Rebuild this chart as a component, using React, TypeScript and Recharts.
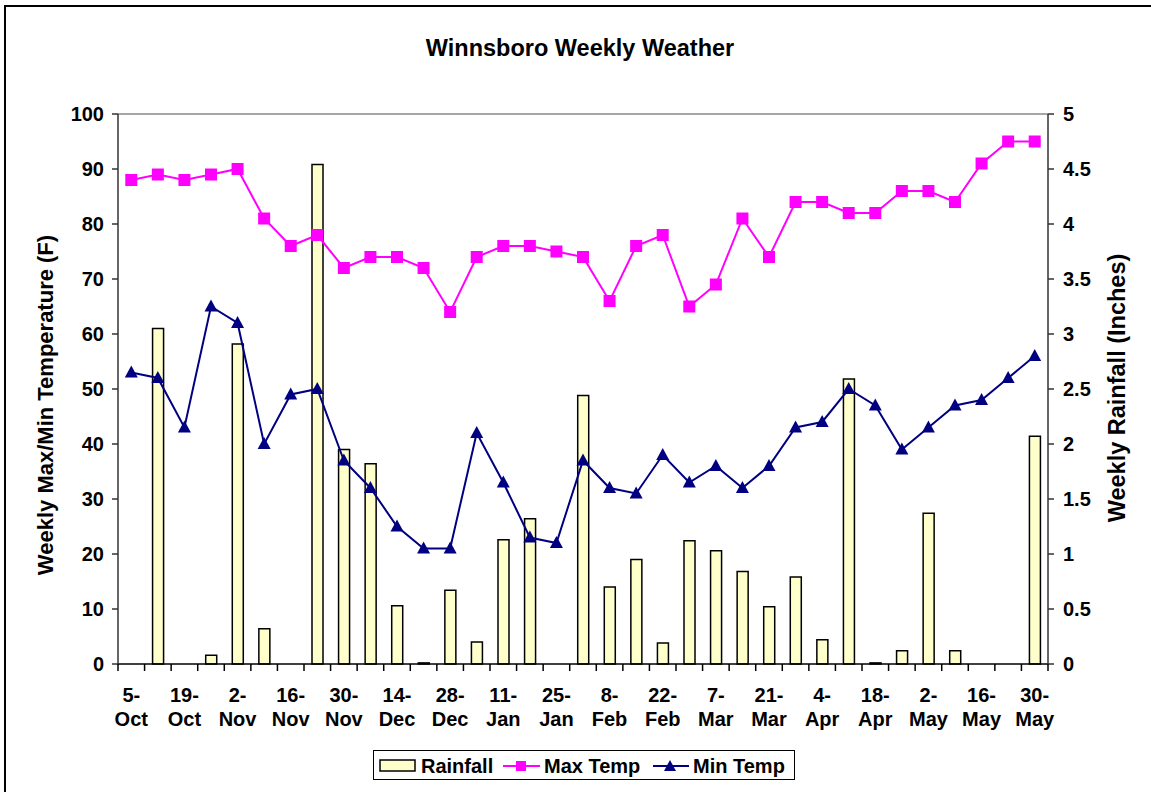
import { ComposedChart, Bar, Line, XAxis, YAxis, Legend, ReferenceLine } from "recharts";

const weeks = [
  "5-Oct", "12-Oct", "19-Oct", "26-Oct", "2-Nov", "9-Nov", "16-Nov", "23-Nov", "30-Nov",
  "7-Dec", "14-Dec", "21-Dec", "28-Dec", "4-Jan", "11-Jan", "18-Jan", "25-Jan",
  "1-Feb", "8-Feb", "15-Feb", "22-Feb", "29-Feb", "7-Mar", "14-Mar", "21-Mar", "28-Mar",
  "4-Apr", "11-Apr", "18-Apr", "25-Apr", "2-May", "9-May", "16-May", "23-May", "30-May",
];

const rainfall = [
  0, 3.05, 0, 0.08, 2.91, 0.32, 0, 4.54, 1.95, 1.82, 0.53, 0.01, 0.67, 0.2, 1.13, 1.32, 0,
  2.44, 0.7, 0.95, 0.19, 1.12, 1.03, 0.84, 0.52, 0.79, 0.22, 2.59, 0.01, 0.12, 1.37, 0.12, 0, 0, 2.07,
];

const maxTemp = [
  88, 89, 88, 89, 90, 81, 76, 78, 72, 74, 74, 72, 64, 74, 76, 76, 75, 74, 66, 76, 78, 65, 69,
  81, 74, 84, 84, 82, 82, 86, 86, 84, 91, 95, 95,
];

const minTemp = [
  53, 52, 43, 65, 62, 40, 49, 50, 37, 32, 25, 21, 21, 42, 33, 23, 22, 37, 32, 31, 38, 33, 36,
  32, 36, 43, 44, 50, 47, 39, 43, 47, 48, 52, 56,
];

const tempTicks = [0, 10, 20, 30, 40, 50, 60, 70, 80, 90, 100];
const rainTicks = [0, 0.5, 1, 1.5, 2, 2.5, 3, 3.5, 4, 4.5, 5];

const rows = weeks.map((week, i) => ({
  week,
  rain: rainfall[i],
  max: maxTemp[i],
  min: minTemp[i],
}));

const FONT = "'Liberation Sans', Arial, sans-serif";
const AXIS = "#333333";

// chart box
const W = 1151;
const H = 792;
const LEFT_W = 118;
const RIGHT_W = 103;
const BAND = (W - LEFT_W - RIGHT_W) / weeks.length;

const SquareDot = (props: any) => {
  const { cx, cy, index } = props;
  if (cx == null || cy == null) return <g key={`s${index}`} />;
  return <rect key={`s${index}`} x={cx - 6} y={cy - 6} width={12} height={12} fill="#FF00FF" />;
};

const TriangleDot = (props: any) => {
  const { cx, cy, index } = props;
  if (cx == null || cy == null) return <g key={`t${index}`} />;
  return (
    <path
      key={`t${index}`}
      d={`M${cx},${cy - 7} L${cx + 6.5},${cy + 5} L${cx - 6.5},${cy + 5} Z`}
      fill="#000080"
    />
  );
};

// Excel style: tick marks between categories, label on every other week
const WeekTick = (props: any) => {
  const { x, y, payload, index } = props;
  const [day, mon] = String(payload.value).split("-");
  const left = x - BAND / 2;
  const right = x + BAND / 2;
  return (
    <g>
      <line x1={left} y1={y} x2={left} y2={y + 7} stroke="#000" strokeWidth={1.5} />
      {index === weeks.length - 1 && (
        <line x1={right} y1={y} x2={right} y2={y + 7} stroke="#000" strokeWidth={1.5} />
      )}
      {index % 2 === 0 && (
        <text x={x} textAnchor="middle" fontFamily={FONT} fontWeight="bold" fontSize={20} fill="#000">
          <tspan x={x} y={y + 38}>{day}-</tspan>
          <tspan x={x} y={y + 62}>{mon}</tspan>
        </text>
      )}
    </g>
  );
};

const LegendBox = () => (
  <svg width={422} height={30} style={{ display: "block" }}>
    <rect x={0.5} y={0.5} width={421} height={29} fill="#fff" stroke="#000" />
    <rect x={7} y={10} width={35} height={11} fill="#FFFFCC" stroke="#000" strokeWidth={1.5} />
    <text x={48} y={23} fontFamily={FONT} fontWeight="bold" fontSize={20}>Rainfall</text>
    <line x1={130} y1={16} x2={167} y2={16} stroke="#FF00FF" strokeWidth={2} />
    <rect x={143} y={11} width={10} height={10} fill="#FF00FF" />
    <text x={171} y={23} fontFamily={FONT} fontWeight="bold" fontSize={20}>Max Temp</text>
    <line x1={280} y1={16} x2={316} y2={16} stroke="#000080" strokeWidth={2} />
    <path d="M297,10 L303,21 L291,21 Z" fill="#000080" />
    <text x={320} y={23} fontFamily={FONT} fontWeight="bold" fontSize={20}>Min Temp</text>
  </svg>
);

const tickStyle = { fontFamily: FONT, fontWeight: "bold", fontSize: 20, fill: "#000" };

export default function App() {
  return (
    <div style={{ position: "absolute", left: 0, top: 0, width: W, height: H, overflow: "hidden", background: "#fff" }}>
      <div
        style={{
          position: "absolute",
          left: 4,
          top: 5,
          width: 1170,
          height: 810,
          border: "2px solid #000",
          boxSizing: "border-box",
        }}
      />
      <div
        style={{
          position: "absolute",
          left: 330,
          top: 34,
          width: 500,
          height: 28,
          lineHeight: "28px",
          textAlign: "center",
          fontFamily: FONT,
          fontWeight: "bold",
          fontSize: 23.5,
          color: "#000",
        }}
      >
        Winnsboro Weekly Weather
      </div>
      <div style={{ position: "absolute", left: 0, top: 0 }}>
        <ComposedChart width={W} height={H} data={rows} margin={{ top: 114, right: 0, bottom: 58, left: 0 }}>
          <XAxis
            dataKey="week"
            interval={0}
            tickLine={false}
            axisLine={{ stroke: "#000", strokeWidth: 1.5 }}
            tickSize={0}
            tickMargin={0}
            tick={<WeekTick />}
            height={70}
          />
          <YAxis
            yAxisId="left"
            domain={[0, 100]}
            ticks={tempTicks}
            interval={0}
            width={LEFT_W}
            tickSize={6}
            tickMargin={8}
            stroke={AXIS}
            strokeWidth={1.5}
            tick={tickStyle}
            label={{
              content: () => (
                <text
                  x={45}
                  y={405}
                  transform="rotate(-90 45 405)"
                  textAnchor="middle"
                  dominantBaseline="central"
                  fontFamily={FONT}
                  fontWeight="bold"
                  fontSize={22}
                  fill="#000"
                >
                  Weekly Max/Min Temperature (F)
                </text>
              ),
            }}
          />
          <YAxis
            yAxisId="right"
            orientation="right"
            domain={[0, 5]}
            ticks={rainTicks}
            interval={0}
            width={RIGHT_W}
            tickSize={6}
            tickMargin={9}
            stroke={AXIS}
            strokeWidth={1.5}
            tick={tickStyle}
            tickFormatter={(v: number) => String(v)}
            label={{
              content: () => (
                <text
                  x={1117}
                  y={388}
                  transform="rotate(-90 1117 388)"
                  textAnchor="middle"
                  dominantBaseline="central"
                  fontFamily={FONT}
                  fontWeight="bold"
                  fontSize={23.5}
                  fill="#000"
                >
                  Weekly Rainfall (Inches)
                </text>
              ),
            }}
          />
          <ReferenceLine yAxisId="left" y={100} stroke="#888888" strokeWidth={1.5} />
          <Bar
            yAxisId="right"
            dataKey="rain"
            name="Rainfall"
            barSize={11}
            fill="#FFFFCC"
            stroke="#000"
            strokeWidth={1.5}
            isAnimationActive={false}
          />
          <Line
            yAxisId="left"
            type="linear"
            dataKey="max"
            name="Max Temp"
            stroke="#FF00FF"
            strokeWidth={2}
            dot={SquareDot}
            activeDot={false}
            isAnimationActive={false}
          />
          <Line
            yAxisId="left"
            type="linear"
            dataKey="min"
            name="Min Temp"
            stroke="#000080"
            strokeWidth={2}
            dot={TriangleDot}
            activeDot={false}
            isAnimationActive={false}
          />
          <Legend
            layout="vertical"
            align="center"
            verticalAlign="middle"
            content={<LegendBox />}
            wrapperStyle={{ position: "absolute", left: 373, top: 750, width: 422, height: 30 }}
          />
        </ComposedChart>
      </div>
    </div>
  );
}
